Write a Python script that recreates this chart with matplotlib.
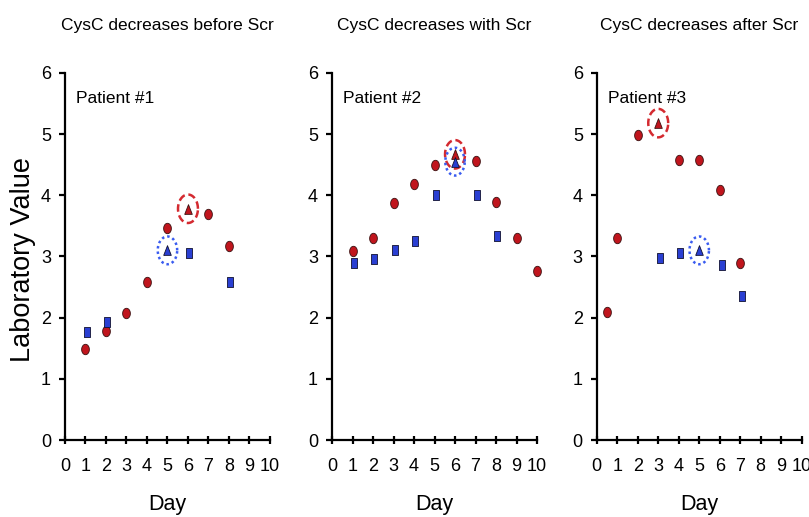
import numpy as np
import matplotlib.pyplot as plt

plt.rcParams['font.family'] = ['Liberation Sans', 'DejaVu Sans']

titles = ['CysC decreases before Scr', 'CysC decreases with Scr', 'CysC decreases after Scr']
patients = ['Patient #1', 'Patient #2', 'Patient #3']

# red circles (Scr)
scr_days = [[1, 2, 3, 4, 5, 7, 8],
            [1, 2, 3, 4, 5, 7, 8, 9, 10],
            [0.5, 1, 2, 4, 5, 6, 7]]
scr_vals = [[1.48, 1.79, 2.08, 2.59, 3.47, 3.70, 3.17],
            [3.09, 3.30, 3.87, 4.19, 4.49, 4.56, 3.89, 3.30, 2.76],
            [2.09, 3.31, 4.98, 4.58, 4.58, 4.09, 2.90]]

# blue squares (CysC)
cys_days = [[1.07, 2.07, 6.07, 8.07],
            [1.07, 2.07, 3.07, 4.07, 5.07, 7.07, 8.07],
            [3.1, 4.07, 6.1, 7.1]]
cys_vals = [[1.77, 1.93, 3.06, 2.59],
            [2.90, 2.96, 3.11, 3.26, 4.00, 4.00, 3.33],
            [2.97, 3.06, 2.86, 2.36]]

# peak values (triangles, circled)
scr_peak_day = [6, 6, 3]
scr_peak_val = [3.78, 4.67, 5.18]
cys_peak_day = [5, 6, 5]
cys_peak_val = [3.10, 4.55, 3.10]

red = '#c0151d'
blue = '#2a3fd2'
ts = np.linspace(0, 2 * np.pi, 60)
rect = [(-0.3, -0.5), (0.3, -0.5), (0.3, 0.5), (-0.3, 0.5), (-0.3, -0.5)]
oval = [(0.37 * np.cos(t), 0.5 * np.sin(t)) for t in ts]
ring = [(0.35 * np.cos(t), 0.5 * np.sin(t)) for t in ts]
tri = [(-0.39, -0.5), (0.39, -0.5), (0, 0.5), (-0.39, -0.5)]

fig = plt.figure(figsize=(8.09, 5.17), dpi=100)
lefts = [0.0803, 0.4104, 0.7376]
H = 367.0  # axes height in pixels

for i in range(3):
    ax = fig.add_axes([lefts[i], 0.1489, 0.2534, 0.710])

    ax.plot(scr_days[i], scr_vals[i], linestyle='none', marker=oval, markersize=7.5,
            markerfacecolor=red, markeredgecolor='#3a1010', markeredgewidth=0.6)
    ax.plot(cys_days[i], cys_vals[i], linestyle='none', marker=rect, markersize=7.5,
            markerfacecolor=blue, markeredgecolor='#101030', markeredgewidth=0.6)

    ax.plot(scr_peak_day[i], scr_peak_val[i], linestyle='none', marker=tri, markersize=7,
            markerfacecolor=red, markeredgecolor='#3a1010', markeredgewidth=0.6)
    ax.plot(cys_peak_day[i], cys_peak_val[i], linestyle='none', marker=tri, markersize=7,
            markerfacecolor=blue, markeredgecolor='#101030', markeredgewidth=0.6)

    # rings around the peaks
    ax.scatter(scr_peak_day[i], scr_peak_val[i], s=420, marker=ring, facecolors='none',
               edgecolors='#d42a30', linewidths=1.8, linestyles=(0, (3, 1.5)))
    ax.scatter(cys_peak_day[i], cys_peak_val[i], s=400, marker=ring, facecolors='none',
               edgecolors='#3a5cf0', linewidths=1.8, linestyles=(0, (1, 1.2)))

    ax.set_xlim(0, 10)
    ax.set_ylim(0, 6)
    ax.set_xticks(range(11))
    ax.set_yticks(range(7))
    for side in ['top', 'right']:
        ax.spines[side].set_visible(False)
    for side in ['left', 'bottom']:
        ax.spines[side].set_linewidth(1.6)
    ax.tick_params(direction='out', length=4, width=1.6, labelsize=13, pad=6)
    ax.tick_params(axis='x', direction='inout', length=6, pad=10)
    ax.set_xlabel('Day', fontsize=15.5, va='baseline')
    ax.xaxis.set_label_coords(0.5, -70 / H)
    ax.text(0.5, 1 + 43 / H, titles[i], transform=ax.transAxes, fontsize=12.5,
            ha='center', va='baseline')
    ax.text(0.55, 5.51, patients[i], fontsize=12.5, va='baseline')
    for art in ax.collections + ax.lines:
        art.set_clip_on(False)

fig.text(0.028, 1 - 260 / 517, 'Laboratory Value', rotation=90, fontsize=19.5,
         va='center', ha='center')

plt.savefig('out.png', dpi=100)
